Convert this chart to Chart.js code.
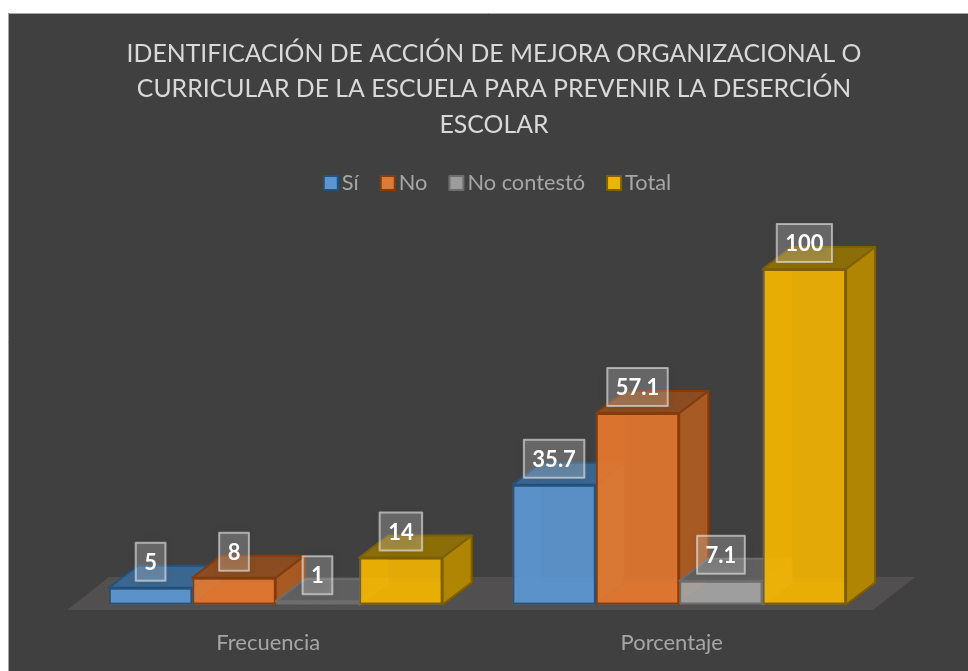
<!DOCTYPE html>
<html lang="es">
<head>
<meta charset="utf-8">
<title>Deserción escolar</title>
<script src="https://cdn.jsdelivr.net/npm/chart.js@4/dist/chart.umd.min.js"></script>
<style>
  html, body { margin: 0; padding: 0; background: #fff; }
  canvas { display: block; }
</style>
</head>
<body>
<canvas id="chart" width="968" height="671"></canvas>
<script>
const categories = ["Frecuencia", "Porcentaje"];
const seriesNames = ["Sí", "No", "No contestó", "Total"];
const siValues = [5, 35.7];
const noValues = [8, 57.1];
const noContestoValues = [1, 7.1];
const totalValues = [14, 100];
const titleLines = [
  "IDENTIFICACIÓN DE ACCIÓN DE MEJORA ORGANIZACIONAL O",
  "CURRICULAR DE LA ESCUELA PARA PREVENIR LA DESERCIÓN",
  "ESCOLAR",
];

const FONT = "Lato";
const frontColors = ["rgba(93,152,212,0.9)", "rgba(230,120,46,0.9)", "rgba(164,164,164,0.9)", "rgba(245,182,1,0.9)"];
const legendColors = ["#5b96d0", "#dd7a35", "#9c9c9c", "#ecb408"];
const sideColors = ["#3f6d9c", "#a85a24", "#6f6f6f", "#b08504"];
const topColors = ["#3b6690", "#8a4c20", "#5f5f5f", "#8c6e08"];
const edgeColors = ["#22537f", "#843c0c", "#6e6e6e", "#7f6000"];

// fake 3D depth of the bars
const DEPTH_X = 29;
const DEPTH_Y = -22;

function poly(ctx, pts, fill, stroke) {
  ctx.beginPath();
  pts.forEach((p, i) => (i ? ctx.lineTo(p[0], p[1]) : ctx.moveTo(p[0], p[1])));
  ctx.closePath();
  ctx.fillStyle = fill;
  ctx.fill();
  if (stroke) {
    ctx.strokeStyle = stroke;
    ctx.lineWidth = 2;
    ctx.lineJoin = "round";
    ctx.stroke();
  }
}

function drawDepth(ctx, bar, i) {
  const l = bar.x - bar.width / 2;
  const r = bar.x + bar.width / 2;
  const t = bar.y;
  const b = bar.base;
  const dx = DEPTH_X;
  const dy = DEPTH_Y;
  // floor and left wall of the box, only just visible through the front face
  ctx.save();
  ctx.globalAlpha = 0.3;
  poly(ctx, [[l, b], [r, b], [r + dx, b + dy], [l + dx, b + dy]], frontColors[i]);
  poly(ctx, [[l, t], [l + dx, t + dy], [l + dx, b + dy], [l, b]], frontColors[i]);
  ctx.restore();
  poly(ctx, [[r, t], [r + dx, t + dy], [r + dx, b + dy], [r, b]], sideColors[i], edgeColors[i]);
  poly(ctx, [[l, t], [r, t], [r + dx, t + dy], [l + dx, t + dy]], topColors[i], edgeColors[i]);
}

const chartPanel = {
  id: "chartPanel",
  beforeDraw(chart) {
    const ctx = chart.ctx;
    ctx.save();
    ctx.fillStyle = "#404040";
    ctx.strokeStyle = "#a6a6a6";
    ctx.lineWidth = 1;
    ctx.fillRect(8, 13, 960, 658);
    ctx.beginPath();
    ctx.moveTo(8.5, 671);
    ctx.lineTo(8.5, 13.5);
    ctx.lineTo(968, 13.5);
    ctx.stroke();
    ctx.restore();
  },
};

const boxes3d = {
  id: "boxes3d",
  beforeDatasetsDraw(chart) {
    const ctx = chart.ctx;
    const area = chart.chartArea;
    // floor plane
    poly(ctx, [
      [area.left - 7, area.bottom + 5.5],
      [area.right - 8, area.bottom + 5.5],
      [area.right + 34, area.bottom - 27.5],
      [area.left + 35, area.bottom - 27.5],
    ], "#514f4f");
    // painted left to right so that each box covers the previous one
    chart.data.datasets.forEach((ds, i) => {
      chart.getDatasetMeta(i).data.forEach((el) => {
        const bar = el.getProps(["x", "y", "base", "width"], true);
        drawDepth(ctx, bar, i);
        el.draw(ctx, area);
      });
    });
  },
  beforeDatasetDraw() {
    return false;
  },
  afterDatasetsDraw(chart) {
    const ctx = chart.ctx;
    chart.data.datasets.forEach((ds, i) => {
      chart.getDatasetMeta(i).data.forEach((el, j) => {
        const bar = el.getProps(["x", "y"], true);
        const text = String(ds.data[j]);
        ctx.save();
        ctx.font = `bold 22px ${FONT}`;
        const w = ctx.measureText(text).width + 17;
        const h = 38;
        const x = bar.x - w / 2;
        const y = bar.y - 7 - h;
        ctx.shadowColor = "rgba(0,0,0,0.35)";
        ctx.shadowBlur = 10;
        ctx.fillStyle = "rgba(255,255,255,0.22)";
        ctx.fillRect(x, y, w, h);
        ctx.shadowColor = "transparent";
        ctx.strokeStyle = "rgba(235,235,235,0.6)";
        ctx.lineWidth = 2;
        ctx.strokeRect(x, y, w, h);
        ctx.fillStyle = "#ffffff";
        ctx.textAlign = "center";
        ctx.textBaseline = "middle";
        ctx.fillText(text, bar.x, y + h / 2 + 1);
        ctx.restore();
      });
    });
  },
};

// legend sits closer to its boxes than the built-in one allows
const boxLegend = {
  id: "boxLegend",
  afterDraw(chart) {
    const ctx = chart.ctx;
    const names = chart.data.datasets.map((d) => d.label);
    ctx.save();
    ctx.font = `21.8px ${FONT}`;
    ctx.textBaseline = "middle";
    const widths = names.map((n) => ctx.measureText(n).width);
    const total = widths.reduce((a, b) => a + b + 19, 0) + 21 * (names.length - 1);
    let x = 497 - total / 2;
    names.forEach((name, i) => {
      ctx.fillStyle = legendColors[i];
      ctx.strokeStyle = edgeColors[i];
      ctx.lineWidth = 2;
      ctx.fillRect(x + 1, 176, 14, 14);
      ctx.strokeRect(x + 1, 176, 14, 14);
      ctx.fillStyle = "#a6a6a6";
      ctx.fillText(name, x + 19, 183);
      x += widths[i] + 19 + 21;
    });
    ctx.restore();
  },
};

new Chart(document.getElementById("chart"), {
  type: "bar",
  data: {
    labels: categories,
    datasets: [siValues, noValues, noContestoValues, totalValues].map((values, i) => ({
      label: seriesNames[i],
      data: values,
      backgroundColor: frontColors[i],
      borderColor: edgeColors[i],
      borderWidth: 2,
      borderSkipped: false,
      categoryPercentage: 0.827,
      barPercentage: 1,
    })),
  },
  plugins: [chartPanel, boxes3d, boxLegend],
  options: {
    responsive: false,
    animation: false,
    events: [],
    layout: { padding: { left: 74, right: 54, top: 0, bottom: 0 } },
    plugins: {
      legend: { display: false },
      tooltip: { enabled: false },
      title: {
        display: true,
        text: titleLines,
        color: "#d9d9d9",
        font: { family: FONT, size: 24.8, weight: "normal", lineHeight: 35.5 / 24.8 },
        padding: { top: 36, bottom: 126.5 },
      },
    },
    scales: {
      x: {
        grid: { display: false },
        border: { display: false },
        ticks: {
          color: "#a6a6a6",
          font: { family: FONT, size: 22 },
          padding: 17,
          labelOffset: -7.5,
          maxRotation: 0,
        },
        afterFit(scale) {
          scale.height = 66.5;
        },
      },
      y: {
        position: "right",
        min: 0,
        max: 100,
        grid: { display: false },
        border: { display: false },
        ticks: { display: false },
        // keeps the title centred further right than the plot
        afterFit(scale) {
          scale.width = 33;
        },
      },
    },
  },
});
</script>
</body>
</html>
